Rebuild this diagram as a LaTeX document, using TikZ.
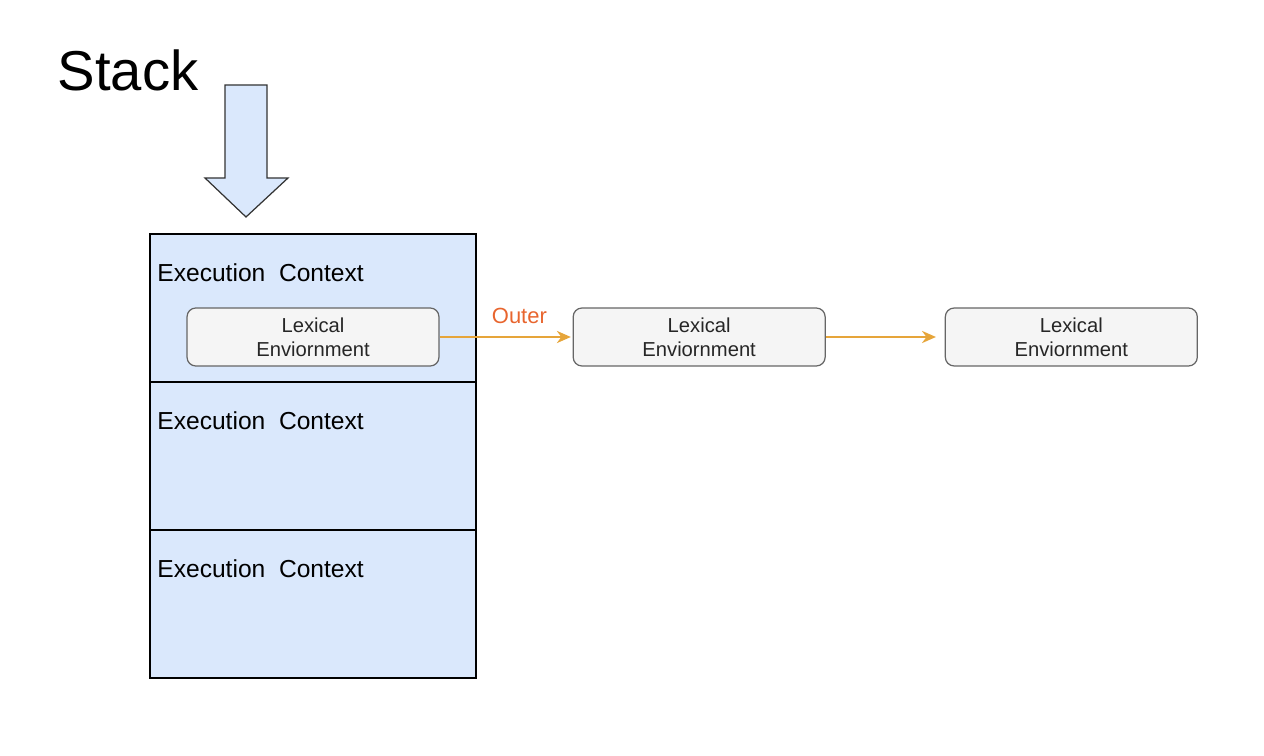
\documentclass[tikz,border=0pt]{standalone}
\usepackage{fontspec}
\setmainfont{Liberation Sans}
\usepackage{tikz}
\usetikzlibrary{arrows.meta,positioning}
\definecolor{stackblue}{HTML}{DAE8FC}
\definecolor{lexfill}{HTML}{F5F5F5}
\definecolor{lexgray}{HTML}{666666}
\definecolor{arrorange}{HTML}{E6A53A}
\definecolor{outerred}{HTML}{E8652E}

\begin{document}
\begin{tikzpicture}[
    x=0.02cm, y=-0.02cm,
    ctxbox/.style={draw=black, fill=stackblue, line width=0.7pt,
                   minimum width=6.52cm, minimum height=2.96cm,
                   inner sep=0pt, outer sep=0pt},
    ctxlbl/.style={font=\fontsize{14}{16}\selectfont, anchor=west, inner sep=0pt},
    lexbox/.style={draw=lexgray, fill=lexfill, rounded corners=5pt,
                   minimum width=5.04cm, minimum height=1.16cm, align=center,
                   font=\fontsize{11.5}{13.6}\selectfont, text=black!85,
                   line width=0.7pt},
    arr/.style={-{Stealth[length=8pt,width=7pt]}, draw=arrorange, line width=0.8pt},
    outerlbl/.style={font=\fontsize{12.5}{14}\selectfont, text=outerred},
  ]
    \useasboundingbox (0,0) rectangle (1264,756);

    % Title and push arrow
    \node[font=\fontsize{32}{36}\selectfont] (title) at (128,70) {Stack};
    \draw[fill=stackblue, draw=black!80, line width=0.7pt]
      (225,85) -- (267,85) -- (267,178) -- (288,178) -- (246,217)
      -- (205,178) -- (225,178) -- cycle;

    % Stack of execution contexts
    \node[ctxbox] (ec1) at (313,308) {};
    \node[ctxbox, below=0pt of ec1] (ec2) {};
    \node[ctxbox, below=0pt of ec2] (ec3) {};
    \foreach \i in {1,2,3}
      \node[ctxlbl] (ctx\i) at ([xshift=0.14cm,yshift=-0.78cm]ec\i.north west)
        {Execution\ \ Context};

    % Lexical environment chain
    \node[lexbox] (le1) at (313,337) {Lexical\\Enviornment};
    \node[lexbox, right=2.66cm of le1] (le2) {Lexical\\Enviornment};
    \node[lexbox, right=2.38cm of le2] (le3) {Lexical\\Enviornment};

    \draw[arr, shorten >=1pt] (le1) -- node[outerlbl, pos=0.6, above=4pt] (outer) {Outer} (le2);
    \draw[arr, shorten >=5pt] (le2) -- (le3);
  \end{tikzpicture}
\end{document}
